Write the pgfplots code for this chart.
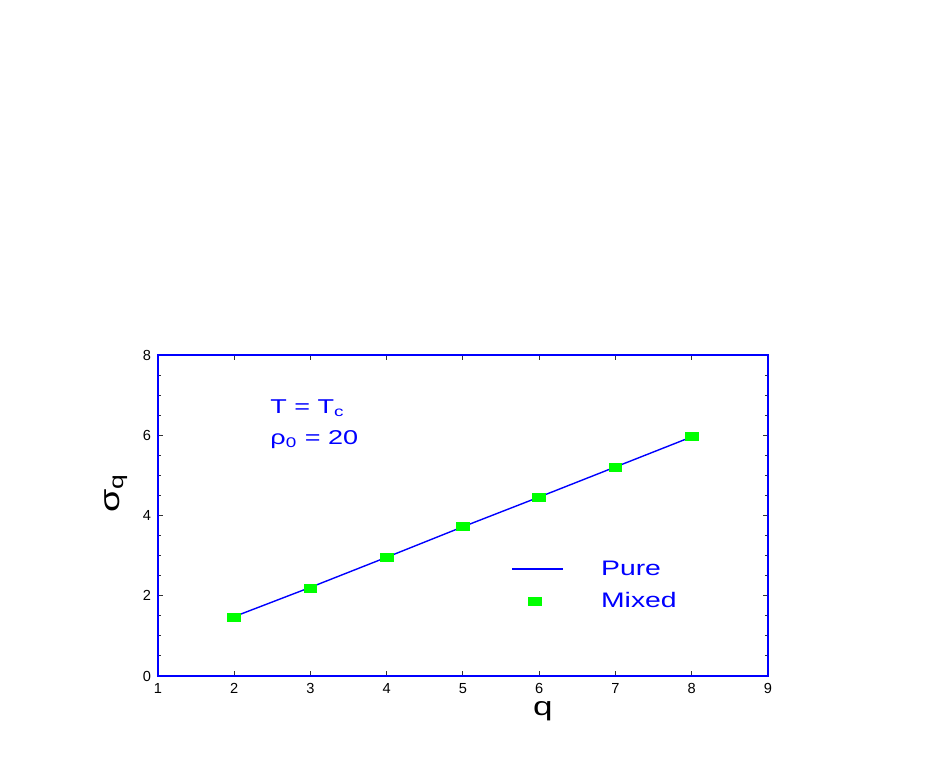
\documentclass[border=0pt]{standalone}
\usepackage{fontspec}
\setmainfont{Liberation Sans}
\newfontfamily\xf[FakeStretch=1.35]{Liberation Sans}
\usepackage{pgfplots}
\pgfplotsset{compat=1.18}
\definecolor{xblue}{RGB}{0,0,255}
\definecolor{xgreen}{RGB}{0,255,0}
\pgfplotsset{
  lineleg/.style={legend image code/.code={\draw[##1, xblue, line width=0.9pt] (0pt,0pt) -- (25.5pt,0pt);}},
  markleg/.style={legend image code/.code={\draw[mark repeat=2,mark phase=2,##1] plot coordinates {(0pt,0pt)(11.5pt,0pt)(25.5pt,0pt)};}},
}
\begin{document}
\begin{tikzpicture}
\path[use as bounding box] (-79pt,-43.5pt) rectangle (384pt,338pt);
\begin{axis}[
  scale only axis, width=305pt, height=160.5pt,
  xmin=1, xmax=9, ymin=0, ymax=8,
  xtick={1,...,9}, ytick={0,2,4,6,8},
  minor y tick num=3,
  axis line style={xblue, line width=1pt},
  tick style={black!80, line width=0.5pt},
  major tick length=2.5pt, minor tick length=1.5pt,
  tick align=inside,
  ticklabel style={font=\fontsize{7.3}{8}\selectfont},
  /pgf/number format/assume math mode=true,
  xlabel={\xf\fontsize{13}{14}\selectfont q},
  xlabel style={at={(rel axis cs:0.631,0)}, anchor=north, yshift=-9pt},
  ylabel={\xf\fontsize{14}{15}\selectfont σ\textsubscript{q}},
  ylabel style={at={(rel axis cs:-0.069,0.57)}, anchor=center},
  legend cell align=left,
  legend style={draw=none, fill=none, at={(axis cs:5.55,2.26)}, anchor=west,
    font=\xf\fontsize{10.5}{12}\selectfont, text=xblue,
    nodes={inner sep=0pt, text height=8pt, text depth=2pt},
    row sep=6pt,
    /tikz/every odd column/.append style={column sep=18.5pt}},
]
\addplot[xblue, line width=0.7pt, lineleg]
  coordinates {(2,1.48) (3,2.21) (4,2.96) (5,3.72) (6,4.46) (7,5.21) (8,5.96)};
\addlegendentry{Pure}
\addplot[only marks, mark=square*, mark size=2pt,
  mark options={xscale=1.6, fill=xgreen, draw=xgreen}, markleg]
  coordinates {(2,1.47) (3,2.19) (4,2.96) (5,3.72) (6,4.46) (7,5.21) (8,5.96)};
\addlegendentry{Mixed}
\node[anchor=base west, text=xblue, font=\xf\fontsize{10}{12}\selectfont, inner sep=0pt]
  at (axis cs:2.47,6.53) {T = T\textsubscript{c}};
\node[anchor=base west, text=xblue, font=\xf\fontsize{10}{12}\selectfont, inner sep=0pt]
  at (axis cs:2.47,5.76) {ρ\textsubscript{0} = 20};
\end{axis}
\end{tikzpicture}
\end{document}
